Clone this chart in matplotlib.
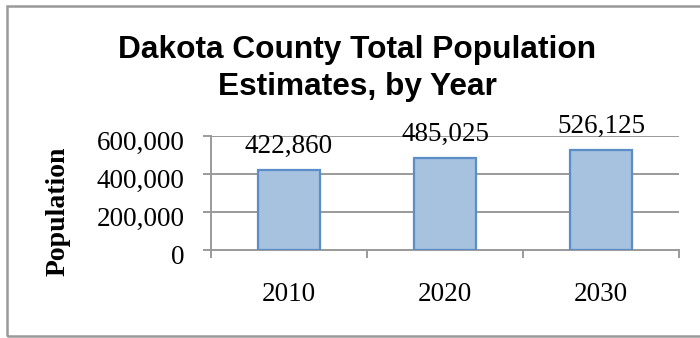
import matplotlib.pyplot as plt
from matplotlib.patches import Rectangle
from matplotlib.ticker import FuncFormatter
from matplotlib.transforms import ScaledTranslation

years = ['2010', '2020', '2030']
population = [422860, 485025, 526125]
y_ticks = [0, 200000, 400000, 600000]

serif = 'Liberation Serif'
fs = 19.5

fig = plt.figure(figsize=(7, 3.38), dpi=100)
ax = fig.add_axes([211 / 700, 88 / 338, 468 / 700, 114 / 338])

grid_col = '#9a9a9a'
x = range(len(years))
ax.bar(x, population, width=0.4, color='#A6C2DE', edgecolor='#5B8EC8', linewidth=1.6, zorder=3)

for xi, v in zip(x, population):
    ax.annotate(f'{v:,}', (xi, v), xytext=(0, 12), textcoords='offset points',
                ha='center', va='baseline', family=serif, fontsize=fs)

ax.set_xlim(-0.5, 2.5)
ax.set_ylim(0, 600000)
ax.set_yticks(y_ticks)
ax.yaxis.set_major_formatter(FuncFormatter(lambda v, p: f'{int(v):,}'))
ax.set_xticks(list(x))
ax.set_xticklabels(years)
ax.set_xticks([-0.5, 0.5, 1.5, 2.5], minor=True)
ax.tick_params(axis='x', which='major', length=0, pad=23)
ax.tick_params(axis='x', which='minor', length=6, color=grid_col, width=1.4)
ax.tick_params(axis='y', length=6, color=grid_col, width=1.4, pad=13)
for lab in ax.get_xticklabels() + ax.get_yticklabels():
    lab.set_family(serif)
    lab.set_fontsize(fs)
shift = ScaledTranslation(0, -4 / 100, fig.dpi_scale_trans)
for lab in ax.get_yticklabels():
    lab.set_transform(lab.get_transform() + shift)

ax.grid(axis='y', color=grid_col, linewidth=1.4, zorder=0)
ax.set_axisbelow(True)
for s in ['top', 'right']:
    ax.spines[s].set_visible(False)
for s in ['left', 'bottom']:
    ax.spines[s].set_color(grid_col)
    ax.spines[s].set_linewidth(1.4)

fig.text(58.5 / 700, 1 - 211.5 / 338, 'Population', rotation=90, ha='center', va='center',
         family=serif, fontweight='bold', fontsize=20)

fig.text(357.5 / 700, 1 - 58 / 338, 'Dakota County Total Population', ha='center', va='baseline',
         family='Liberation Sans', fontweight='bold', fontsize=22.8)
fig.text(357.5 / 700, 1 - 95 / 338, 'Estimates, by Year', ha='center', va='baseline',
         family='Liberation Sans', fontweight='bold', fontsize=22.8)

# chart border (right edge falls outside the image)
fig.patches.append(Rectangle((7 / 700, 2.5 / 338), 700 / 700, 330 / 338, transform=fig.transFigure,
                             fill=False, edgecolor='#999999', linewidth=1.8))

fig.savefig('out.png', dpi=100)
